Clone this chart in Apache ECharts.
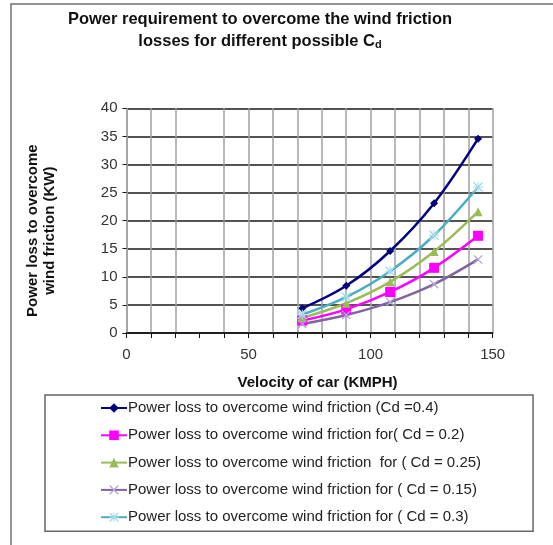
<!DOCTYPE html>
<html>
<head>
<meta charset="utf-8">
<script src="https://cdn.jsdelivr.net/npm/echarts@6/dist/echarts.min.js"></script>
<style>
  html, body { margin: 0; padding: 0; background: #fff; }
  #main { width: 553px; height: 545px; }
</style>
</head>
<body>
<div id="main"></div>
<script>
// velocity of car (KMPH)
var speeds = [72, 90, 108, 126, 144];

// power loss (KW) per drag coefficient
var cd040 = [4.4, 8.4, 14.6, 23.1, 34.6];
var cd020 = [2.2, 4.2, 7.3, 11.6, 17.3];
var cd025 = [2.7, 5.3, 9.1, 14.5, 21.6];
var cd015 = [1.6, 3.2, 5.5, 8.7, 13.1];
var cd030 = [3.3, 6.4, 11.0, 17.4, 26.0];

var seriesNames = [
    'Power loss to overcome wind friction (Cd =0.4)',
    'Power loss to overcome wind friction for( Cd = 0.2)',
    'Power loss to overcome wind friction  for ( Cd = 0.25)',
    'Power loss to overcome wind friction for ( Cd = 0.15)',
    'Power loss to overcome wind friction for ( Cd = 0.3)'
];

var xTicks = [0, 50, 100, 150];

var FONT = '"Liberation Sans", Arial, sans-serif';
var crossPath = 'path://M0,1L1,0L5,4L9,0L10,1L6,5L10,9L9,10L5,6L1,10L0,9L4,5Z';
var starPath = 'path://M0,1L1,0L4.5,3.5L4.5,0L5.5,0L5.5,3.5L9,0L10,1L6.5,4.5L10,4.5L10,5.5L6.5,5.5L10,9L9,10L5.5,6.5L5.5,10L4.5,10L4.5,6.5L1,10L0,9L3.5,5.5L0,5.5L0,4.5L3.5,4.5Z';

function pairs(vals) {
    return speeds.map(function (s, i) { return [s, vals[i]] })
}

function makeSeries(name, vals, color, markColor, symbol, size, width) {
    return {
        name: name,
        type: 'line',
        smooth: 0.35,
        data: pairs(vals),
        symbol: symbol,
        symbolSize: size,
        lineStyle: { color: color, width: width },
        itemStyle: { color: markColor },
        emphasis: { disabled: true }
    }
}

// vertical gridlines: the one at 30 is not drawn in the reference
var vLineColors = [];
for (var i = 0; i <= 15; i++) {
    vLineColors.push(i === 3 ? 'rgba(0,0,0,0)' : '#a0a0a0');
}

var chart = echarts.init(document.getElementById('main'));

var option = {
    backgroundColor: '#fff',
    animation: false,
    textStyle: { fontFamily: FONT },
    graphic: [{
        type: 'rect',
        shape: { x: 11, y: 4, width: 700, height: 700 },
        style: { fill: 'none', stroke: '#707070', lineWidth: 1.5 },
        silent: true
    }],
    title: {
        text: 'Power requirement to overcome the wind friction\nlosses for different possible C{sub|d}',
        left: 255,
        textAlign: 'center',
        top: 3,
        textStyle: {
            fontFamily: FONT,
            fontSize: 16.5,
            fontWeight: 'bold',
            color: '#111',
            lineHeight: 22,
            rich: {
                sub: {
                    fontFamily: FONT,
                    fontSize: 11,
                    fontWeight: 'bold',
                    color: '#111',
                    padding: [8, 0, 0, 0]
                }
            }
        }
    },
    grid: {
        left: 126.5,
        right: 60.3,
        top: 108.3,
        bottom: 212
    },
    xAxis: {
        type: 'value',
        min: 0,
        max: 150,
        interval: 10,
        name: 'Velocity of car (KMPH)',
        nameLocation: 'middle',
        nameGap: 42,
        nameTextStyle: {
            fontFamily: FONT,
            fontSize: 15,
            fontWeight: 'bold',
            color: '#111',
            padding: [0, 0, 0, 16]
        },
        axisLine: { lineStyle: { color: '#111', width: 1.5 } },
        axisTick: { show: true, length: 5, lineStyle: { color: '#111' } },
        axisLabel: {
            margin: 14,
            fontFamily: FONT,
            fontSize: 15,
            color: '#333',
            showMaxLabel: true,
            formatter: function (v) { return xTicks.indexOf(v) >= 0 ? String(v) : '' }
        },
        splitLine: { show: true, lineStyle: { color: vLineColors, width: 1.5 } }
    },
    yAxis: {
        type: 'value',
        min: 0,
        max: 40,
        interval: 5,
        name: 'Power loss to overcome\nwind friction (KW)',
        nameLocation: 'middle',
        nameRotate: 90,
        nameGap: 68,
        nameTextStyle: {
            fontFamily: FONT,
            fontSize: 15,
            fontWeight: 'bold',
            color: '#111',
            lineHeight: 17,
            padding: [0, 20, 0, 0]
        },
        axisLine: { show: true, lineStyle: { color: '#a0a0a0', width: 1.5 } },
        axisTick: { show: true, length: 4, lineStyle: { color: '#111' } },
        axisLabel: {
            margin: 9,
            fontFamily: FONT,
            fontSize: 15,
            color: '#333'
        },
        splitLine: { show: true, lineStyle: { color: '#1a1a1a', width: 1.5 } }
    },
    legend: {
        orient: 'vertical',
        left: 45,
        top: 395,
        padding: [5.5, 52, 6.5, 55],
        itemGap: 12.3,
        itemWidth: 26,
        itemHeight: 12,
        borderColor: '#666',
        borderWidth: 1.5,
        borderRadius: 0,
        textStyle: { fontFamily: FONT, fontSize: 15, color: '#222', padding: [0, 0, 0, -4] },
        data: seriesNames
    },
    series: [
        makeSeries(seriesNames[0], cd040, '#000080', '#000080', 'diamond', 8, 2.5),
        makeSeries(seriesNames[1], cd020, '#ff00ff', '#ff00ff', 'rect', 10, 2.5),
        makeSeries(seriesNames[2], cd025, '#9bbb59', '#9bbb59', 'triangle', 9, 2.5),
        makeSeries(seriesNames[3], cd015, '#8064a2', '#b3a6cf', crossPath, 9, 2.5),
        makeSeries(seriesNames[4], cd030, '#4bacc6', '#a5dbe8', starPath, 10, 2.5)
    ]
};

chart.setOption(option);
</script>
</body>
</html>
